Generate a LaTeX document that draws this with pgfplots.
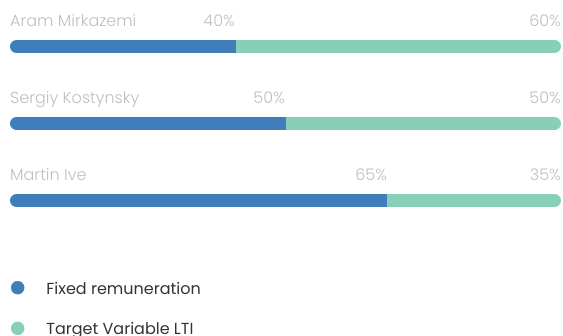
\documentclass[border=0pt]{standalone}
\usepackage{pgfplots}
\pgfplotsset{compat=1.18}
\usepackage{fontspec}
\setmainfont{Poppins}
\newfontfamily\lightfont{Poppins Light}
\definecolor{fixedblue}{RGB}{63,126,187}
\definecolor{ltiteal}{RGB}{136,207,186}
\definecolor{lbl}{RGB}{190,190,190}
\definecolor{legtext}{RGB}{51,51,51}
\pgfplotsset{
  seg/.style={forget plot, line width=13.5pt, line cap=butt},
  cap/.style={forget plot, line width=13.5pt, line cap=round},
}
\begin{document}
\begin{tikzpicture}
\begin{axis}[
  at={(0,0)}, anchor=south west,
  scale only axis, width=563pt, height=336pt,
  xmin=-3.116, xmax=101.628, ymin=0, ymax=336, y dir=reverse,
  axis lines=none, clip=false,
  legend cell align=left,
  legend style={draw=none, fill=none, inner sep=0pt, outer sep=0pt,
    at={(axis cs:-1.07,281)}, anchor=north west,
    row sep=26pt, column sep=22pt,
    font=\fontsize{16}{19}\selectfont,
    nodes={inner sep=0pt, text=legtext}},
]
% Aram Mirkazemi: fixed 40, LTI 60
\addplot[seg, ltiteal] coordinates {(40.8,46.5) (100,46.5)};
\addplot[cap, ltiteal] coordinates {(99,46.5) (100,46.5)};
\addplot[seg, fixedblue] coordinates {(0,46.5) (40.8,46.5)};
\addplot[cap, fixedblue] coordinates {(0,46.5) (1,46.5)};
% Sergiy Kostynsky: fixed 50, LTI 50
\addplot[seg, ltiteal] coordinates {(50.1,123.5) (100,123.5)};
\addplot[cap, ltiteal] coordinates {(99,123.5) (100,123.5)};
\addplot[seg, fixedblue] coordinates {(0,123.5) (50.1,123.5)};
\addplot[cap, fixedblue] coordinates {(0,123.5) (1,123.5)};
% Martin Ive: fixed 65, LTI 35
\addplot[seg, ltiteal] coordinates {(68.9,200.5) (100,200.5)};
\addplot[cap, ltiteal] coordinates {(99,200.5) (100,200.5)};
\addplot[seg, fixedblue] coordinates {(0,200.5) (68.9,200.5)};
\addplot[cap, fixedblue] coordinates {(0,200.5) (1,200.5)};

\addlegendimage{legend image code/.code={\fill[fixedblue] (6.5pt,1.1pt) circle (6.5pt);}}
\addlegendimage{legend image code/.code={\fill[ltiteal] (6.5pt,1.1pt) circle (6.5pt);}}
\legend{Fixed remuneration, Target Variable LTI}

\tikzset{lab/.style={inner sep=0pt, text=lbl, font=\lightfont\fontsize{16}{19}\selectfont}}
\node[lab, anchor=base west] at (axis cs:-1.256,26.7) {Aram Mirkazemi};
\node[lab, anchor=base east] at (axis cs:40.6,26.7) {40\%};
\node[lab, anchor=base east] at (axis cs:101.256,26.7) {60\%};
\node[lab, anchor=base west] at (axis cs:-1.256,103.7) {Sergiy Kostynsky};
\node[lab, anchor=base east] at (axis cs:49.9,103.7) {50\%};
\node[lab, anchor=base east] at (axis cs:101.256,103.7) {50\%};
\node[lab, anchor=base west] at (axis cs:-1.256,180.7) {Martin Ive};
\node[lab, anchor=base east] at (axis cs:68.9,180.7) {65\%};
\node[lab, anchor=base east] at (axis cs:101.256,180.7) {35\%};
\end{axis}
\pgfresetboundingbox
\path (0,0) rectangle (563pt,336pt);
\end{tikzpicture}
\end{document}
